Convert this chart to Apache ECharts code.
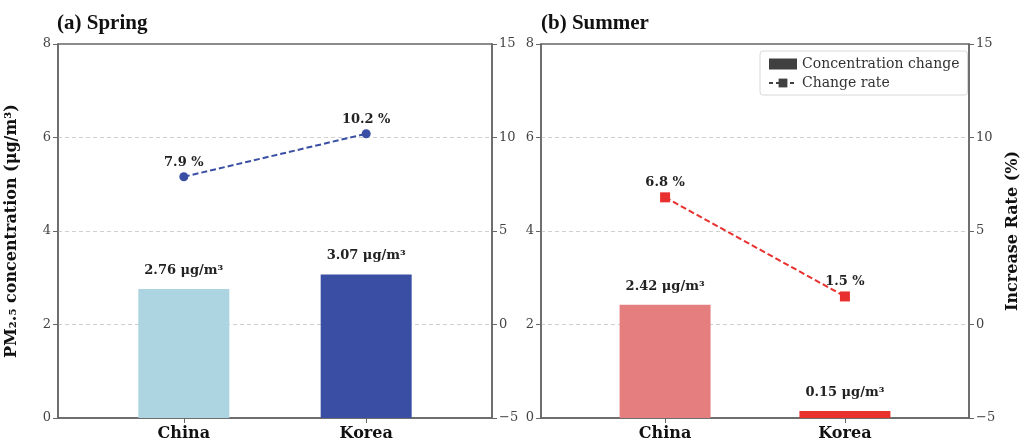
<!DOCTYPE html>
<html>
<head>
<meta charset="utf-8">
<script src="https://cdn.jsdelivr.net/npm/echarts@6/dist/echarts.min.js"></script>
<style>
  html, body { margin: 0; padding: 0; background: #fff; }
  #chart { width: 1022px; height: 442px; }
</style>
</head>
<body>
<div id="chart"></div>
<script>
// Regions and seasonal values
const categories = ['China', 'Korea'];
const springConc = [2.76, 3.07];     // μg/m³
const springRate = [7.9, 10.2];      // %
const summerConc = [2.42, 0.15];     // μg/m³
const summerRate = [6.8, 1.5];       // %
const concTicks = [0, 2, 4, 6, 8];
const rateTicks = [-5, 0, 5, 10, 15];

const springColors = ['#ADD5E1', '#3A4FA3'];
const summerColors = ['#E57F7F', '#E8302E'];
const springLine = '#3A4FA3';
const summerLine = '#E8302E';

const SERIF = "'DejaVu Serif', serif";
const axisGray = '#666';

const chart = echarts.init(document.getElementById('chart'));

function xAxisFor(gridIndex) {
  return {
    type: 'value', gridIndex: gridIndex, min: -0.69, max: 1.69,
    axisLine: { show: true, onZero: false, lineStyle: { color: axisGray, width: 1.5 } },
    axisTick: { show: true, customValues: [0, 1], length: 5, lineStyle: { color: axisGray } },
    axisLabel: {
      customValues: [0, 1], formatter: v => categories[Math.round(v)],
      fontFamily: SERIF, fontWeight: 'bold', fontSize: 16, color: '#111', margin: 8
    },
    splitLine: { show: false }
  };
}

function yConc(gridIndex, withName) {
  return {
    type: 'value', gridIndex: gridIndex, min: concTicks[0], max: concTicks[concTicks.length - 1], interval: 2,
    position: 'left',
    name: withName ? 'PM₂.₅ concentration (μg/m³)' : '',
    nameLocation: 'middle', nameGap: 38, nameRotate: 90,
    nameTextStyle: { fontFamily: SERIF, fontWeight: 'bold', fontSize: 16, color: '#111' },
    axisLine: { show: true, onZero: false, lineStyle: { color: axisGray, width: 1.5 } },
    axisTick: { show: true, length: 5, lineStyle: { color: axisGray } },
    axisLabel: { fontFamily: SERIF, fontSize: 13, color: '#444', margin: 7 },
    splitLine: { show: true, showMinLine: false, showMaxLine: false,
                 lineStyle: { color: '#d0d0d0', type: [4, 3], width: 1 } }
  };
}

function yRate(gridIndex, withName) {
  return {
    type: 'value', gridIndex: gridIndex, min: rateTicks[0], max: rateTicks[rateTicks.length - 1], interval: 5,
    position: 'right',
    name: withName ? 'Increase Rate (%)' : '',
    nameLocation: 'middle', nameGap: 36, nameRotate: 90,
    nameTextStyle: { fontFamily: SERIF, fontWeight: 'bold', fontSize: 16, color: '#111' },
    axisLine: { show: true, onZero: false, lineStyle: { color: axisGray, width: 1.5 } },
    axisTick: { show: true, length: 5, lineStyle: { color: axisGray } },
    axisLabel: { fontFamily: SERIF, fontSize: 13, color: '#444', margin: 7,
                 formatter: v => (v < 0 ? '\u2212' + Math.abs(v) : String(v)) },
    splitLine: { show: false }
  };
}

function barSeries(xi, yi, values, colors) {
  return {
    name: 'Concentration change', type: 'bar', xAxisIndex: xi, yAxisIndex: yi,
    barWidth: 91,
    itemStyle: { color: '#404040' },
    data: values.map((v, i) => ({ value: [i, v], itemStyle: { color: colors[i] } })),
    label: {
      show: true, position: 'top', distance: 12,
      formatter: p => p.value[1].toFixed(2) + ' μg/m³',
      fontFamily: SERIF, fontWeight: 'bold', fontSize: 13, color: '#222'
    },
    z: 2
  };
}

function lineSeries(xi, yi, values, color, symbol, size) {
  return {
    name: 'Change rate', type: 'line', xAxisIndex: xi, yAxisIndex: yi,
    data: values.map((v, i) => [i, v]),
    symbol: symbol, symbolSize: size,
    itemStyle: { color: color },
    lineStyle: { color: color, type: [6, 3], width: 2 },
    label: {
      show: true, position: 'top', distance: 3,
      formatter: p => p.value[1].toFixed(1) + ' %',
      fontFamily: SERIF, fontWeight: 'bold', fontSize: 13, color: '#222'
    },
    z: 5
  };
}

chart.setOption({
  animation: false,
  backgroundColor: '#fff',
  title: [
    { text: '(a) Spring', left: 52, top: 8,
      textStyle: { fontFamily: "'Liberation Serif', serif", fontWeight: 'bold', fontSize: 21, color: '#111' } },
    { text: '(b) Summer', left: 536, top: 8,
      textStyle: { fontFamily: "'Liberation Serif', serif", fontWeight: 'bold', fontSize: 21, color: '#111' } }
  ],
  legend: {
    left: 760, top: 51, orient: 'vertical',
    padding: [6, 8, 5, 8], itemGap: 5,
    itemWidth: 28, itemHeight: 11,
    borderColor: '#d8d8d8', borderWidth: 1, borderRadius: 3,
    backgroundColor: '#fff',
    textStyle: { fontFamily: SERIF, fontSize: 14, color: '#333' },
    data: [
      { name: 'Concentration change', icon: 'rect', itemStyle: { color: '#404040' } },
      { name: 'Change rate', itemStyle: { color: '#404040' }, lineStyle: { color: '#404040', type: [4, 3], width: 2 } }
    ]
  },
  grid: [
    { left: 58, right: 530, top: 44, bottom: 24, show: true, borderColor: axisGray, borderWidth: 1.5, backgroundColor: 'transparent' },
    { left: 541, right: 48, top: 44, bottom: 24, show: true, borderColor: axisGray, borderWidth: 1.5, backgroundColor: 'transparent' }
  ],
  xAxis: [xAxisFor(0), xAxisFor(1)],
  yAxis: [yConc(0, true), yRate(0, false), yConc(1, false), yRate(1, true)],
  // summer series listed first so the legend takes its square marker
  series: [
    barSeries(1, 2, summerConc, summerColors),
    lineSeries(1, 3, summerRate, summerLine, 'rect', 10),
    barSeries(0, 0, springConc, springColors),
    lineSeries(0, 1, springRate, springLine, 'circle', 9)
  ]
});
</script>
</body>
</html>
